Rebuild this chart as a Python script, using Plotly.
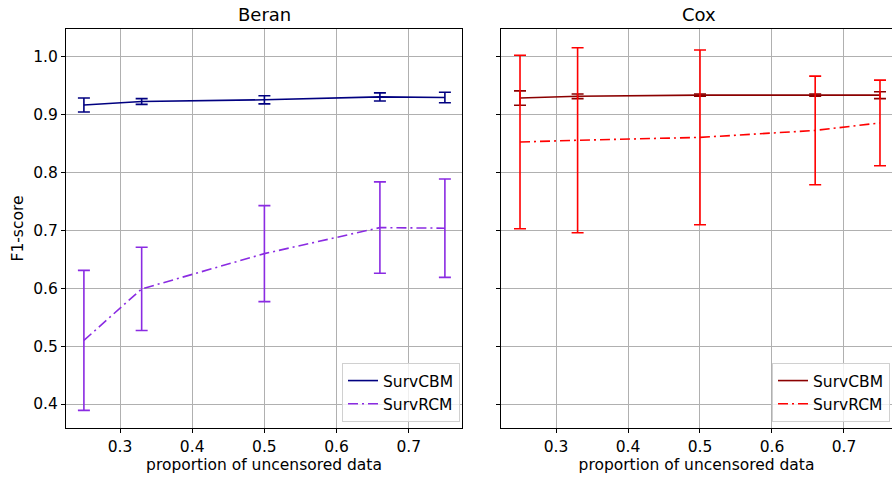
import plotly.graph_objects as go

x = [0.25, 0.33, 0.5, 0.66, 0.75]

beran_cbm = [0.917, 0.923, 0.926, 0.931, 0.930]
beran_cbm_err = [0.012, 0.005, 0.007, 0.007, 0.009]
beran_rcm = [0.510, 0.599, 0.660, 0.705, 0.704]
beran_rcm_err = [0.121, 0.072, 0.083, 0.079, 0.085]

cox_cbm = [0.929, 0.932, 0.934, 0.934, 0.934]
cox_cbm_err = [0.0125, 0.004, 0.002, 0.002, 0.006]
cox_rcm = [0.853, 0.856, 0.861, 0.873, 0.886]
cox_rcm_err = [0.150, 0.160, 0.151, 0.094, 0.074]

x_ticks = [0.3, 0.4, 0.5, 0.6, 0.7]
y_ticks = [0.4, 0.5, 0.6, 0.7, 0.8, 0.9, 1.0]

FONT = "DejaVu Sans"
DASHDOT = "10px,4px,2px,4px"
FS = 15.5

def trace(y, err, color, name, dash, xa, ya, legend):
    return go.Scatter(
        x=x, y=y, mode="lines", name=name,
        line=dict(color=color, width=1.6, dash=dash),
        error_y=dict(type="data", array=err, visible=True, color=color,
                     thickness=1.6, width=6),
        xaxis=xa, yaxis=ya, legend=legend,
    )

fig = go.Figure()
fig.add_trace(trace(beran_cbm, beran_cbm_err, "#000080", "SurvCBM", "solid", "x", "y", "legend"))
fig.add_trace(trace(beran_rcm, beran_rcm_err, "#8a2be2", "SurvRCM", DASHDOT, "x", "y", "legend"))
fig.add_trace(trace(cox_cbm, cox_cbm_err, "#8b0000", "SurvCBM", "solid", "x2", "y2", "legend2"))
fig.add_trace(trace(cox_rcm, cox_rcm_err, "#ff0000", "SurvRCM", DASHDOT, "x2", "y2", "legend2"))

W, H = 892, 477
ml, mr, mt, mb = 66, 0, 29, 49
pw = W - ml - mr
ph = H - mt - mb

axis_common = dict(
    showline=True, linecolor="black", linewidth=1, mirror=True,
    ticks="outside", ticklen=4, tickcolor="black",
    showgrid=True, gridcolor="#b0b0b0", gridwidth=0.8,
    zeroline=False, tickfont=dict(family=FONT, size=FS, color="black"),
)

fig.update_layout(
    width=W, height=H,
    margin=dict(l=ml, r=mr, t=mt, b=mb),
    paper_bgcolor="white", plot_bgcolor="white",
    font=dict(family=FONT, color="black"),
    xaxis=dict(domain=[0, (462 - ml) / pw], range=[0.2252, 0.7737],
               tickvals=x_ticks, ticktext=[str(v) for v in x_ticks],
               title=dict(text="proportion of uncensored data", font=dict(size=FS), standoff=2),
               **axis_common),
    yaxis=dict(range=[0.3585, 1.0484], tickvals=y_ticks,
               ticktext=[f"{v:.1f}" for v in y_ticks],
               title=dict(text="F1-score", font=dict(size=FS), standoff=5),
               **axis_common),
    xaxis2=dict(domain=[(501 - ml) / pw, 1], range=[0.2236, 0.7667], anchor="y2",
                tickvals=x_ticks, ticktext=[str(v) for v in x_ticks],
                title=dict(text="proportion of uncensored data", font=dict(size=FS), standoff=2),
                **axis_common),
    yaxis2=dict(range=[0.3585, 1.0484], tickvals=y_ticks, showticklabels=False,
                anchor="x2", **axis_common),
    legend=dict(x=(460 - ml) / pw, y=(428 - 422) / ph, xanchor="right", yanchor="bottom",
                bordercolor="#d0d0d0", borderwidth=1, bgcolor="rgba(255,255,255,0.8)",
                font=dict(family=FONT, size=FS), tracegroupgap=0),
    legend2=dict(x=(890 - ml) / pw, y=(428 - 422) / ph, xanchor="right", yanchor="bottom",
                 bordercolor="#d0d0d0", borderwidth=1, bgcolor="rgba(255,255,255,0.8)",
                 font=dict(family=FONT, size=FS), tracegroupgap=0),
    annotations=[
        dict(text="Beran", x=((462 - ml) / pw) / 2, y=1, xref="paper", yref="paper",
             xanchor="center", yanchor="bottom", yshift=2, showarrow=False,
             font=dict(family=FONT, size=18)),
        dict(text="Cox", x=((501 - ml) / pw + (892 - ml + 5) / pw) / 2, y=1, xref="paper", yref="paper",
             xanchor="center", yanchor="bottom", yshift=2, showarrow=False,
             font=dict(family=FONT, size=18)),
    ],
)

fig.write_html("out.html")
